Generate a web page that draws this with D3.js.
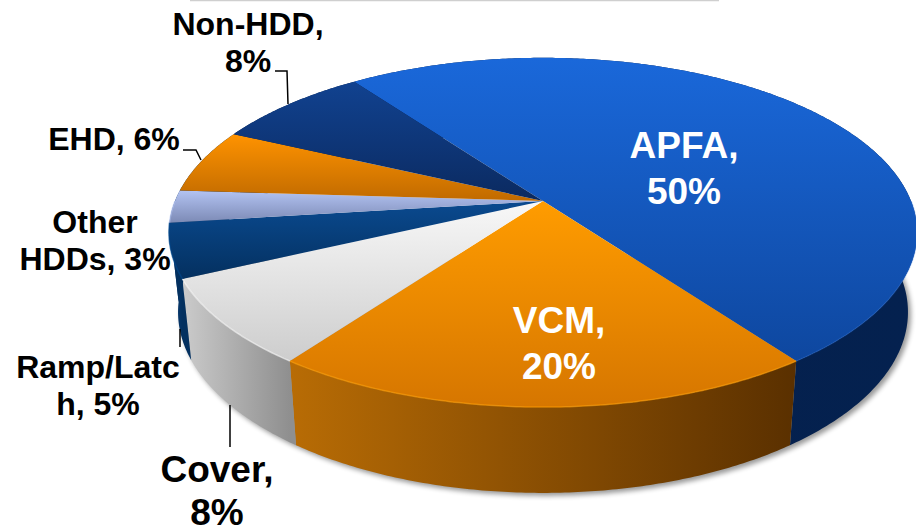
<!DOCTYPE html>
<html><head><meta charset="utf-8">
<script src="https://cdn.jsdelivr.net/npm/d3@7/dist/d3.min.js"></script>
<style>html,body{margin:0;padding:0;background:#fff}svg{display:block}text{font-family:"Liberation Sans",Arial,sans-serif;font-weight:700}</style>
</head><body><svg id="c" width="916" height="529"></svg>
<script>
const categories = ["APFA","VCM","Cover","Ramp/Latch","Other HDDs","EHD","Non-HDD"];
const values = [50,20,8,5,3,6,8];
const topColors = [["#1a68da","#0e479f"],["#ff9c00","#d67600"],["#f8f8f8","#cdcdcd"],["#0a4a90","#04305f"],["#b3c3f2","#7c8ab5"],["#ff9300","#c06a00"],["#114290","#0b2a60"]];
const wallColors = [["#04214f","#06204c"],["#5a3000","#b86c05"],["#8f8f8f","#cbcbcb"],["#03305f","#0a3f7c"],["#03305f","#03305f"],["#03305f","#03305f"],["#08204a","#08204a"]];

const svg = d3.select("#c"), defs = svg.append("defs");
const k = 0.18;
const topX = d3.scaleLinear().domain([-1,1]).range([543-368,543+368]);
const topY = d3.scaleLinear().domain([-1,1]).range([201+169,201-169]);
const botX = d3.scaleLinear().domain([-1,1]).range([543-359,543+359]);
const botY = d3.scaleLinear().domain([-1,1]).range([279.5+175,279.5-175]);
const proj = (xs,ys) => t => { const u=Math.sin(t), v=Math.cos(t), d=1+k*v; return [xs(u/d), ys(v/d)]; };
const pTop = proj(topX,topY), pBot = proj(botX,botY), apex = [topX(0),topY(0)];
const arcPts = (a,b) => { const n=Math.max(2,Math.ceil((b-a)/0.01)); return d3.range(n+1).map(i=>a+(b-a)*i/n); };
const line = d3.line();
const arcs = d3.pie().sort(null).startAngle(-0.1*2*Math.PI).endAngle(0.9*2*Math.PI)(values);

const grad = (id,c,x1,y1,x2,y2) => { const g=defs.append("linearGradient").attr("id",id).attr("gradientUnits","userSpaceOnUse").attr("x1",x1).attr("y1",y1).attr("x2",x2).attr("y2",y2);
  g.append("stop").attr("offset",0).attr("stop-color",c[0]); g.append("stop").attr("offset",1).attr("stop-color",c[1]); };
defs.append("filter").attr("id","blur").attr("x","-10%").attr("y","-10%").attr("width","120%").attr("height","120%").append("feGaussianBlur").attr("stdDeviation",2.5);
defs.append("filter").attr("id","soft").attr("x","-10%").attr("y","-10%").attr("width","120%").attr("height","120%").append("feGaussianBlur").attr("stdDeviation",0.7);

svg.append("line").attr("x1",190).attr("x2",719).attr("y1",0.5).attr("y2",0.5).attr("stroke","#cfcfcf").attr("stroke-width",1.5);

// ground shadow
svg.append("path").attr("d",line(arcPts(Math.PI*0.45,Math.PI*1.55).map(pBot))+"Z").attr("transform","translate(3,3)")
  .attr("fill","#000").attr("opacity",0.4).attr("filter","url(#blur)");

// walls
d3.range(arcs.length).forEach(i=>{ const s=arcs[i], pts=arcPts(s.startAngle,s.endAngle);
  const xs=pts.map(t=>pTop(t)[0]); grad("w"+i,wallColors[i],d3.max(xs),0,d3.min(xs),0);
  const poly=pts.map(pTop).concat(pts.slice().reverse().map(pBot));
  svg.append("path").attr("d",line(poly)+"Z").attr("fill",`url(#w${i})`);
});

// top faces
arcs.forEach((s,i)=>{ const pts=arcPts(s.startAngle,s.endAngle).map(pTop); const all=pts.concat([apex]);
  const ys=all.map(p=>p[1]); grad("t"+i,topColors[i],0,d3.min(ys),0,d3.max(ys));
  svg.append("path").attr("d",line(all)+"Z").attr("fill",`url(#t${i})`).attr("class","slice");
});
// rim highlight on the front edge
const frontRim = [Math.PI*0.5,Math.PI*1.5];
arcs.forEach((s,i)=>{ const a=Math.max(s.startAngle,frontRim[0]), b=Math.min(s.endAngle,frontRim[1]); if(b<=a) return;
  svg.append("path").attr("d",line(arcPts(a,b).map(pTop))).attr("fill","none")
  .attr("stroke",topColors[i][0]).attr("stroke-width",1.5).attr("stroke-opacity",i===0?0.3:0.6).attr("filter","url(#soft)"); });

// labels
const labelLayout = [
 {lines:["APFA,","50%"],x:684,y:[158,204],size:37,fill:"#fff"},
 {lines:["VCM,","20%"],x:559,y:[333,379],size:37,fill:"#fff"},
 {lines:["Cover,","8%"],x:217,y:[482,525],size:37,fill:"#000"},
 {lines:["Ramp/Latc","h, 5%"],x:98,y:[378,415],size:32,fill:"#000"},
 {lines:["Other","HDDs, 3%"],x:95,y:[233,270],size:32,fill:"#000"},
 {lines:["EHD, 6%"],x:114,y:[150],size:32,fill:"#000"},
 {lines:["Non-HDD,","8%"],x:248,y:[35,72],size:32,fill:"#000"}];
labelLayout.forEach(l=>l.lines.forEach((t,j)=>svg.append("text").attr("x",l.x).attr("y",l.y[j]).attr("text-anchor","middle")
  .attr("font-size",l.size).attr("fill",l.fill).text(t)));

// leader lines
[[[275,71],[287,71],[288,104]],[[183,150],[196,150],[201,160]],[[180,329],[180,347]],[[230,405],[230,447]]]
 .forEach(p=>svg.append("path").attr("d",line(p)).attr("fill","none").attr("stroke","#000").attr("stroke-width",1.5));
</script></body></html>
